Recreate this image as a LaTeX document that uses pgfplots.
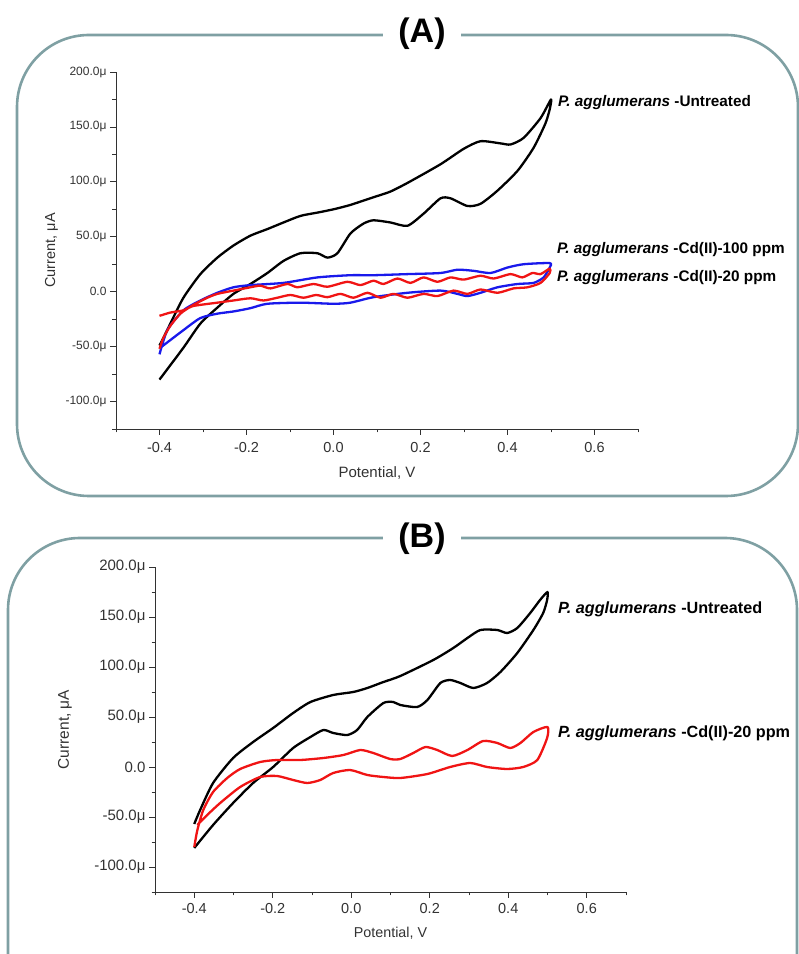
\documentclass[border=0pt]{standalone}
\usepackage{fontspec}
\setmainfont{Liberation Sans}
\usepackage{pgfplots}
\pgfplotsset{compat=1.18}

\definecolor{frame}{RGB}{127,160,163}
\definecolor{cvred}{RGB}{240,20,20}
\definecolor{cvblue}{RGB}{25,25,235}
\definecolor{axgray}{RGB}{50,50,50}

\pgfplotsset{
  cv/.style={
    scale only axis,
    axis lines=left,
    axis line style={-, axgray, line width=0.8pt},
    xmin=-0.5, xmax=0.7, ymin=-125, ymax=200,
    xtick={-0.4,-0.2,0,0.2,0.4,0.6},
    xticklabels={-0.4,-0.2,0.0,0.2,0.4,0.6},
    minor xtick={-0.5,-0.3,-0.1,0.1,0.3,0.5,0.7},
    ytick={-100,-50,0,50,100,150,200},
    yticklabels={-100.0μ,-50.0μ,0.0,50.0μ,100.0μ,150.0μ,200.0μ},
    minor ytick={-125,-75,-25,25,75,125,175},
    tick align=outside,
    major tick length=6pt, minor tick length=3.5pt,
    tick style={axgray, line width=0.8pt},
    tick label style={text=axgray},
    label style={text=axgray},
    xlabel={Potential, V},
    ylabel={Current, μA},
    clip=false,
  },
  cvline/.style={line width=2.3pt, smooth, tension=0.4, line join=round},
}

\newcommand{\species}[2]{\fontsize{#1}{#1}\selectfont\bfseries\textit{P. agglumerans} #2}

\begin{document}
\begin{tikzpicture}
\path[use as bounding box, clip] (0,0) rectangle (799pt,954pt);

% frames
\draw[frame, line width=2.6pt, rounded corners=72pt] (17pt,458pt) rectangle (798pt,919pt);
\draw[frame, line width=2.6pt, rounded corners=72pt] (8pt,-120pt) rectangle (797pt,416pt);
\node[fill=white, inner xsep=15pt, inner ysep=2pt, font=\fontsize{34}{36}\selectfont\bfseries] at (422pt,920pt) {(A)};
\node[fill=white, inner xsep=15pt, inner ysep=2pt, font=\fontsize{34}{36}\selectfont\bfseries] at (422pt,415pt) {(B)};

% panel A
\begin{axis}[cv, at={(116pt,525pt)}, anchor=south west, width=522pt, height=357pt,
  xticklabel style={font=\fontsize{14.5}{16}\selectfont, yshift=-4pt},
  yticklabel style={font=\fontsize{12}{14}\selectfont},
  xlabel style={font=\fontsize{15}{16}\selectfont, at={(axis description cs:0.5,-0.123)}, anchor=center},
  ylabel style={font=\fontsize{14.5}{16}\selectfont, at={(axis description cs:-0.1235,0.5)}, anchor=center, rotate=0}]
\addplot[cvline, black] coordinates {
(-0.4,-49) (-0.391,-42) (-0.375,-29) (-0.345,-5.5) (-0.306,16) (-0.267,31) (-0.23,42)
(-0.191,51) (-0.152,57) (-0.115,63) (-0.076,69) (-0.037,72) (0,75) (0.039,79) (0.092,86)
(0.13,91) (0.17,99) (0.246,116) (0.299,130) (0.338,137) (0.384,135) (0.407,134) (0.437,140)
(0.476,158) (0.5,175) (0.497,166) (0.487,153) (0.46,131) (0.423,110) (0.377,92)
(0.338,80) (0.308,78) (0.269,85) (0.246,85) (0.207,71) (0.17,60) (0.131,63) (0.092,65)
(0.069,62) (0.039,53) (0.009,35) (-0.014,31) (-0.037,35) (-0.076,35) (-0.115,28)
(-0.152,17) (-0.191,7) (-0.23,-2) (-0.267,-14.5) (-0.306,-29) (-0.345,-51) (-0.4,-80)
};
\addplot[cvline, cvblue] coordinates {
(-0.4,-57) (-0.382,-35) (-0.345,-17) (-0.306,-8) (-0.267,-1) (-0.23,4) (-0.191,6)
(-0.115,8) (-0.037,13) (0.039,15) (0.092,15) (0.17,16) (0.246,17) (0.285,20) (0.322,19)
(0.361,17) (0.4,22) (0.437,25) (0.497,26) (0.497,22) (0.483,13) (0.46,8) (0.423,7)
(0.377,4) (0.338,-1) (0.308,-4) (0.285,-2) (0.246,1) (0.17,-1) (0.092,-5) (0.039,-10)
(0,-11) (-0.076,-10) (-0.152,-11) (-0.191,-15) (-0.23,-18) (-0.267,-20) (-0.306,-24)
(-0.345,-35) (-0.398,-51)
};
\addplot[cvline, cvred] coordinates {
(-0.4,-52) (-0.391,-42) (-0.375,-31) (-0.352,-20) (-0.322,-12) (-0.29,-5.5) (-0.267,-2)
(-0.23,1) (-0.191,4) (-0.168,5.5) (-0.145,3) (-0.106,7) (-0.083,4) (-0.046,7)
(-0.014,4.5) (0.032,9) (0.062,6) (0.092,10) (0.115,7) (0.147,12) (0.177,8) (0.207,13)
(0.239,9) (0.269,13) (0.299,11) (0.338,14.5) (0.368,12) (0.407,16) (0.434,13)
(0.457,17) (0.476,16) (0.497,21) (0.497,17) (0.476,8) (0.446,4) (0.414,3) (0.377,-1)
(0.338,2) (0.308,-2) (0.276,1) (0.239,-4) (0.207,-2) (0.17,-5.5) (0.138,-2) (0.108,-5.5)
(0.078,-1) (0.046,-5.5) (0.016,-2) (-0.014,-5) (-0.04,-3) (-0.069,-5.5) (-0.099,-3)
(-0.129,-5.5) (-0.161,-8) (-0.191,-6) (-0.23,-8) (-0.267,-10) (-0.322,-13)
(-0.345,-17) (-0.375,-19) (-0.4,-22)
};
\end{axis}

% panel B
\begin{axis}[cv, at={(155pt,62pt)}, anchor=south west, width=471pt, height=325pt,
  xticklabel style={font=\fontsize{14.5}{16}\selectfont, yshift=-2pt},
  yticklabel style={font=\fontsize{15}{16}\selectfont},
  xlabel style={font=\fontsize{14.3}{16}\selectfont, at={(axis description cs:0.5,-0.126)}, anchor=center},
  ylabel style={font=\fontsize{15.5}{16}\selectfont, at={(axis description cs:-0.191,0.5)}, anchor=center, rotate=0}]
\addplot[cvline, black] coordinates {
(-0.4,-57) (-0.385,-43) (-0.352,-16) (-0.301,9) (-0.25,25) (-0.199,39) (-0.148,54)
(-0.104,65) (-0.046,72) (0.005,75) (0.041,79) (0.082,85) (0.125,91) (0.209,107)
(0.26,119) (0.296,129) (0.329,137) (0.372,137) (0.397,134) (0.423,139) (0.456,154)
(0.481,167) (0.5,175) (0.499,167) (0.489,154) (0.464,137) (0.423,114) (0.38,95)
(0.346,84) (0.311,79) (0.278,84) (0.252,87) (0.227,84) (0.194,67) (0.168,60) (0.125,62)
(0.107,65) (0.082,64) (0.041,50) (0.015,37) (-0.01,32) (-0.046,34) (-0.071,37)
(-0.104,30) (-0.148,19) (-0.199,0) (-0.25,-16) (-0.301,-36) (-0.352,-58) (-0.4,-81)
};
\addplot[cvline, cvred] coordinates {
(-0.4,-80) (-0.392,-63) (-0.377,-43) (-0.352,-25) (-0.316,-11) (-0.283,-2) (-0.232,5)
(-0.189,7) (-0.13,7) (-0.071,9) (-0.02,12) (0.023,17) (0.056,14) (0.099,8) (0.125,8)
(0.158,14) (0.189,20) (0.219,17) (0.257,11) (0.296,17) (0.336,26) (0.372,24)
(0.405,19) (0.431,24) (0.464,35) (0.5,40) (0.499,29) (0.474,7) (0.438,0) (0.397,-2)
(0.346,0) (0.303,4) (0.252,0) (0.194,-7) (0.125,-11) (0.082,-10) (0.041,-8) (-0.003,-3)
(-0.046,-6) (-0.079,-13) (-0.112,-16) (-0.148,-13) (-0.189,-9) (-0.232,-10)
(-0.283,-20) (-0.334,-36) (-0.367,-48) (-0.392,-58)
};
\end{axis}

% curve labels
\node[anchor=west, inner sep=0pt] at (558pt,851pt) {\species{15.3}{-Untreated}};
\node[anchor=west, inner sep=0pt] at (557pt,704pt) {\species{15.3}{-Cd(II)-100 ppm}};
\node[anchor=west, inner sep=0pt] at (557pt,676pt) {\species{15.3}{-Cd(II)-20 ppm}};
\node[anchor=west, inner sep=0pt] at (558pt,345pt) {\species{16.2}{-Untreated}};
\node[anchor=west, inner sep=0pt] at (558pt,221pt) {\species{16.2}{-Cd(II)-20 ppm}};
\end{tikzpicture}
\end{document}
